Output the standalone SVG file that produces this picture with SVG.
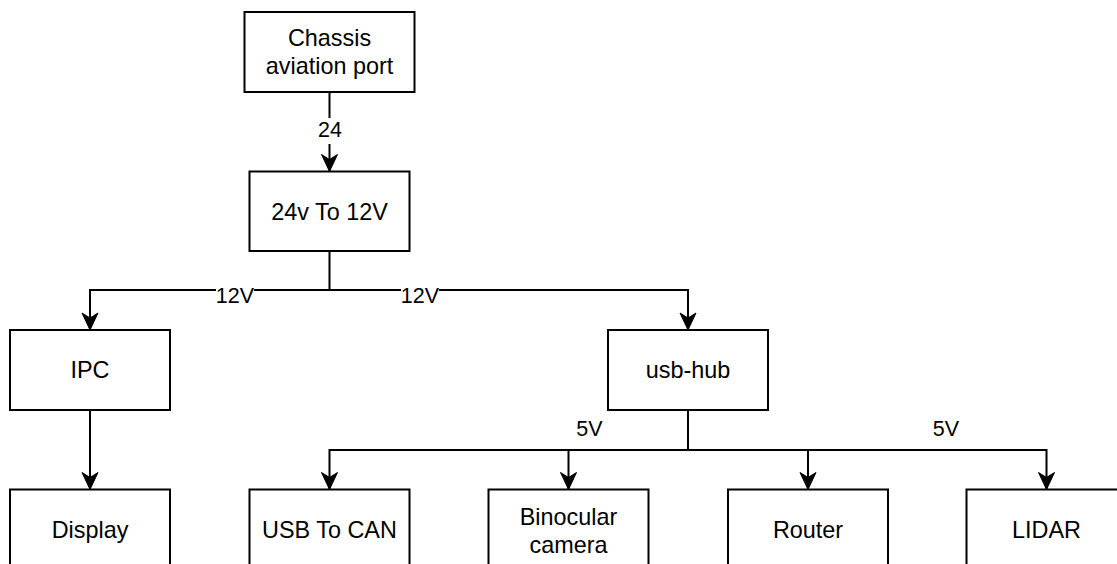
<svg xmlns="http://www.w3.org/2000/svg" width="1117" height="564" viewBox="0 0 1117 564">
<style>
.box{fill:#fff;stroke:#000;stroke-width:2}
.t{font-family:"Liberation Sans",Arial,sans-serif;font-size:23.4px;fill:#000;text-anchor:middle}
.e{font-family:"Liberation Sans",Arial,sans-serif;font-size:21.5px;fill:#000;text-anchor:middle}
.c{fill:none;stroke:#000;stroke-width:2;marker-end:url(#arr)}
.l{fill:none;stroke:#000;stroke-width:2}
</style>
<defs>
<marker id="arr" viewBox="-18 -9 18 18" refX="0" refY="0" markerWidth="18" markerHeight="18" markerUnits="userSpaceOnUse" orient="auto">
<path d="M0,0 L-17,-8 L-12,0 L-17,8 Z" fill="#000" stroke="#000" stroke-width="1"/>
</marker>
</defs>
<rect width="1117" height="564" fill="#fff"/>
<g id="connectors">
<path class="c" d="M329.5,92 V171.5"/>
<path class="c" d="M329.5,251 V290 H90 V330"/>
<path class="c" d="M329.5,290 H688 V330"/>
<path class="c" d="M90,410 V489.5"/>
<path class="c" d="M688,410 V450 H329.5 V489.5"/>
<path class="c" d="M568.5,450 V489.5"/>
<path class="c" d="M688,450 H808 V489.5"/>
<path class="c" d="M808,450 H1046.5 V489.5"/>
<rect x="316" y="118" width="28" height="26" fill="#fff"/>
<text class="e" x="330" y="137">24</text>
<rect x="216" y="284" width="38" height="14" fill="#fff"/>
<text class="e" x="235" y="303">12V</text>
<rect x="401" y="284" width="38" height="14" fill="#fff"/>
<text class="e" x="420" y="303">12V</text>
<text class="e" x="589.5" y="436">5V</text>
<text class="e" x="946" y="436">5V</text>
</g>
<g id="chassis">
<rect class="box" x="244.5" y="12" width="170" height="80"/>
<text class="t" x="329.5" y="46">Chassis</text>
<text class="t" x="329.5" y="74">aviation port</text>
</g>
<g id="converter">
<rect class="box" x="249.5" y="171.5" width="160" height="79.5"/>
<text class="t" x="329.5" y="219.5">24v To 12V</text>
</g>
<g id="ipc">
<rect class="box" x="10" y="330" width="160" height="80"/>
<text class="t" x="90" y="378">IPC</text>
</g>
<g id="usbhub">
<rect class="box" x="608" y="330" width="160" height="80"/>
<text class="t" x="688" y="378">usb-hub</text>
</g>
<g id="display">
<rect class="box" x="10" y="489.5" width="160" height="80"/>
<text class="t" x="90" y="538">Display</text>
</g>
<g id="usbcan">
<rect class="box" x="249.5" y="489.5" width="160" height="80"/>
<text class="t" x="329.5" y="538">USB To CAN</text>
</g>
<g id="binocular">
<rect class="box" x="488.5" y="489.5" width="160" height="80"/>
<text class="t" x="568.5" y="525">Binocular</text>
<text class="t" x="568.5" y="553">camera</text>
</g>
<g id="router">
<rect class="box" x="728" y="489.5" width="160" height="80"/>
<text class="t" x="808" y="538">Router</text>
</g>
<g id="lidar">
<rect class="box" x="966.5" y="489.5" width="160" height="80"/>
<text class="t" x="1046.5" y="538">LIDAR</text>
</g>
</svg>
